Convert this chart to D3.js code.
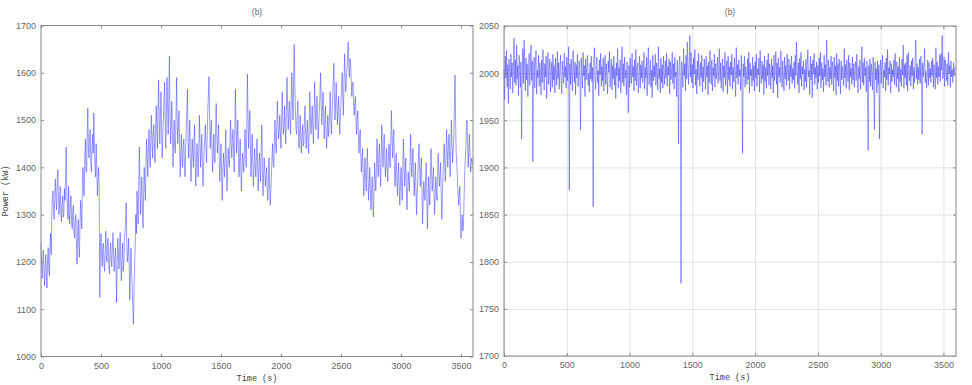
<!DOCTYPE html>
<html>
<head>
    <title>Power (b)</title>
    <script src="https://d3js.org/d3.v7.min.js"></script>
    <style>
        body {
            margin: 0;
            padding: 0;
            background-color: #fff;
        }
        .tick text {
            font-family: 'Liberation Sans', Arial, sans-serif;
            font-size: 9px;
            fill: #666;
        }
        .tick line {
            stroke: #888;
        }
        .grid .tick line {
            stroke: #e2e2e2;
        }
        .label {
            font-family: 'Liberation Mono', 'Courier New', monospace;
            font-size: 8.5px;
            fill: #444;
        }
        .title {
            font-family: 'Liberation Sans', Arial, sans-serif;
            font-size: 8.5px;
            fill: #666;
        }
    </style>
</head>

<body>
    <svg id="chart" width="972" height="385"></svg>

    <script>

        // sampling: one value every 5 s, from 0 to 3595 s
        const step = 5;

        const xTicks = [0, 500, 1000, 1500, 2000, 2500, 3000, 3500];
        const leftTicks = [1000, 1100, 1200, 1300, 1400, 1500, 1600, 1700];
        const rightTicks = [1700, 1750, 1800, 1850, 1900, 1950, 2000, 2050];

        // left panel, power (kW) (one row = 100 s)
        const powerLeft = [
            1240, 1195, 1165, 1210, 1225, 1180, 1150, 1190, 1215, 1170, 1145, 1205, 1230, 1185, 1170, 1235, 1260, 1215, 1300, 1340,
            1350, 1305, 1290, 1345, 1375, 1330, 1310, 1370, 1395, 1340, 1300, 1325, 1360, 1310, 1285, 1320, 1340, 1295, 1300, 1355,
            1330, 1380, 1443, 1350, 1310, 1290, 1360, 1305, 1280, 1325, 1340, 1290, 1270, 1310, 1320, 1265, 1250, 1285, 1300, 1240,
            1195, 1250, 1290, 1235, 1210, 1280, 1330, 1300, 1270, 1360, 1400, 1350, 1340, 1420, 1460, 1395, 1390, 1470, 1525, 1440,
            1420, 1465, 1480, 1410, 1390, 1440, 1470, 1430, 1515, 1455, 1400, 1380, 1450, 1395, 1340, 1370, 1400, 1355, 1125, 1230,
            1260, 1215, 1190, 1235, 1240, 1195, 1180, 1225, 1265, 1210, 1200, 1245, 1250, 1190, 1175, 1220, 1240, 1205, 1190, 1230,
            1262, 1215, 1180, 1205, 1230, 1185, 1114, 1200, 1250, 1220, 1185, 1230, 1262, 1195, 1160, 1210, 1240, 1180, 1195, 1245,
            1262, 1290, 1325, 1240, 1200, 1215, 1250, 1190, 1119, 1180, 1230, 1175, 1150, 1105, 1068, 1140, 1190, 1240, 1300, 1260,
            1350, 1310, 1280, 1375, 1443, 1360, 1300, 1345, 1380, 1320, 1272, 1340, 1400, 1360, 1330, 1410, 1460, 1420, 1380, 1440,
            1480, 1430, 1400, 1460, 1510, 1455, 1420, 1470, 1490, 1440, 1410, 1475, 1530, 1480, 1440, 1520, 1585, 1500, 1450, 1510,
            1560, 1480, 1420, 1470, 1500, 1545, 1580, 1500, 1440, 1520, 1590, 1530, 1470, 1550, 1635, 1520, 1450, 1495, 1540, 1470,
            1400, 1455, 1500, 1440, 1430, 1510, 1590, 1500, 1450, 1490, 1520, 1440, 1380, 1425, 1470, 1415, 1400, 1445, 1460, 1410,
            1380, 1430, 1480, 1520, 1565, 1470, 1420, 1465, 1500, 1420, 1370, 1415, 1460, 1430, 1400, 1455, 1490, 1410, 1360, 1405,
            1450, 1410, 1380, 1440, 1510, 1450, 1400, 1435, 1470, 1410, 1360, 1400, 1440, 1465, 1490, 1440, 1410, 1470, 1520, 1555,
            1592, 1500, 1440, 1475, 1500, 1440, 1390, 1430, 1470, 1425, 1410, 1480, 1535, 1470, 1430, 1460, 1490, 1420, 1370, 1410,
            1450, 1390, 1330, 1385, 1430, 1405, 1380, 1430, 1480, 1410, 1350, 1395, 1440, 1415, 1400, 1455, 1500, 1450, 1420, 1460,
            1480, 1430, 1390, 1470, 1565, 1490, 1430, 1465, 1500, 1440, 1380, 1420, 1460, 1400, 1350, 1395, 1430, 1410, 1390, 1440,
            1480, 1435, 1400, 1490, 1597, 1510, 1440, 1485, 1520, 1450, 1380, 1425, 1470, 1410, 1360, 1400, 1440, 1405, 1380, 1420,
            1460, 1400, 1350, 1395, 1430, 1400, 1370, 1440, 1490, 1410, 1340, 1385, 1420, 1390, 1360, 1380, 1400, 1355, 1330, 1370,
            1420, 1365, 1320, 1350, 1380, 1420, 1450, 1410, 1400, 1460, 1500, 1455, 1430, 1490, 1540, 1495, 1460, 1480, 1510, 1470,
            1440, 1500, 1560, 1505, 1470, 1490, 1530, 1480, 1450, 1520, 1590, 1530, 1480, 1510, 1540, 1495, 1470, 1540, 1600, 1545,
            1500, 1580, 1660, 1580, 1520, 1480, 1470, 1510, 1540, 1480, 1440, 1475, 1510, 1460, 1430, 1470, 1490, 1445, 1450, 1500,
            1530, 1480, 1440, 1470, 1500, 1455, 1430, 1490, 1560, 1510, 1470, 1500, 1530, 1485, 1450, 1510, 1580, 1530, 1480, 1515,
            1550, 1500, 1460, 1490, 1520, 1560, 1600, 1535, 1490, 1520, 1560, 1510, 1460, 1495, 1530, 1480, 1440, 1475, 1510, 1465,
            1480, 1520, 1560, 1505, 1470, 1510, 1540, 1580, 1620, 1550, 1500, 1540, 1580, 1530, 1490, 1520, 1550, 1510, 1470, 1515,
            1540, 1575, 1600, 1550, 1510, 1580, 1640, 1595, 1560, 1590, 1610, 1640, 1665, 1615, 1590, 1630, 1620, 1585, 1550, 1575,
            1580, 1540, 1510, 1535, 1550, 1500, 1470, 1505, 1520, 1470, 1430, 1460, 1480, 1425, 1390, 1420, 1440, 1385, 1340, 1380,
            1420, 1380, 1350, 1400, 1440, 1375, 1330, 1365, 1400, 1350, 1310, 1345, 1380, 1330, 1295, 1350, 1410, 1375, 1350, 1400,
            1460, 1410, 1380, 1420, 1450, 1395, 1360, 1425, 1490, 1435, 1400, 1440, 1470, 1415, 1380, 1410, 1440, 1395, 1370, 1420,
            1450, 1415, 1400, 1460, 1520, 1465, 1420, 1455, 1480, 1410, 1360, 1400, 1430, 1375, 1340, 1385, 1410, 1360, 1320, 1365,
            1400, 1360, 1330, 1395, 1460, 1405, 1360, 1390, 1420, 1355, 1310, 1350, 1390, 1370, 1350, 1410, 1470, 1420, 1380, 1415,
            1440, 1385, 1340, 1375, 1410, 1350, 1300, 1340, 1380, 1415, 1450, 1400, 1360, 1395, 1420, 1345, 1280, 1330, 1370, 1345,
            1330, 1375, 1410, 1335, 1270, 1325, 1380, 1345, 1320, 1385, 1440, 1390, 1350, 1375, 1400, 1345, 1300, 1340, 1380, 1350,
            1330, 1385, 1430, 1390, 1360, 1385, 1410, 1345, 1290, 1335, 1380, 1420, 1450, 1405, 1370, 1425, 1480, 1435, 1400, 1440,
            1470, 1420, 1380, 1440, 1500, 1450, 1410, 1435, 1460, 1530, 1595, 1500, 1430, 1405, 1380, 1345, 1320, 1340, 1360, 1300,
            1250, 1280, 1300, 1265, 1270, 1330, 1380, 1415, 1440, 1480, 1500, 1450, 1400, 1440, 1470, 1425, 1390, 1410, 1420, 1405
        ];

        // right panel, power (kW) (one row = 100 s)
        const powerRight = [
            2005, 1972, 2018, 1995, 2024, 1985, 2009, 1968, 2015, 2001, 1983, 2020, 1996, 2011, 1979, 2006, 2037, 1990, 2014, 1987,
            2030, 1994, 2008, 1976, 2019, 2002, 1985, 2012, 1930, 1998, 2026, 1989, 2035, 2004, 1981, 2016, 1993, 2010, 1975, 2001,
            2021, 1987, 2005, 2030, 1992, 2013, 1906, 1999, 2017, 1984, 2008, 2024, 1978, 2003, 1995, 2019, 1986, 2011, 1999, 1977,
            2014, 1990, 2025, 2003, 1982, 2010, 1996, 2018, 1973, 2006, 2022, 1988, 2001, 2015, 1980, 1997, 2012, 1985, 2020, 1993,
            2008, 1979, 2016, 2000, 1987, 2023, 1994, 2011, 1983, 2005, 2019, 1991, 1978, 2013, 2002, 1989, 2021, 1996, 2007, 1984,
            2017, 1992, 2003, 2028, 1876, 2010, 1988, 2015, 1998, 1981, 2024, 2004, 1990, 2012, 1977, 2009, 1995, 2020, 1986, 2002,
            2013, 1989, 1940, 2016, 2001, 1984, 2022, 1997, 2008, 1975, 2015, 1993, 2006, 2019, 1987, 2000, 1980, 2011, 1994, 2018,
            1991, 2006, 1858, 2012, 2027, 1995, 1983, 2009, 2017, 1990, 2003, 1976, 2014, 1998, 2021, 1986, 2007, 1992, 2016, 1981,
            2004, 2019, 1988, 2010, 1996, 1978, 2013, 2001, 2023, 1985, 1999, 2015, 1982, 2008, 1994, 2018, 1987, 2005, 1973, 2011,
            1997, 2026, 1984, 2006, 1992, 2014, 1979, 2001, 2028, 1990, 2010, 1986, 2017, 1995, 2003, 1977, 2012, 1993, 1958, 2008,
            1985, 2016, 2001, 1989, 2021, 1996, 2007, 1981, 2014, 1992, 2025, 1987, 2004, 2011, 1979, 1998, 2018, 1984, 2009, 1995,
            2013, 1990, 2002, 2022, 1983, 2006, 1995, 2017, 1976, 2010, 2027, 1988, 1999, 2014, 1985, 2003, 1974, 2019, 1992, 2008,
            1996, 2020, 1987, 2011, 2001, 1982, 2028, 1994, 2005, 1979, 2016, 1990, 2009, 1984, 2018, 2000, 1988, 2013, 1995, 2021,
            1986, 2007, 1998, 2015, 1978, 2012, 1993, 2004, 2022, 1989, 2010, 1983, 2017, 1996, 2001, 1975, 2014, 1991, 1925, 2006,
            2018, 1992, 1777, 2012, 2003, 1985, 2026, 1997, 2010, 1981, 2019, 1994, 2033, 2005, 1988, 2014, 2040, 1996, 2022, 1990,
            2009, 1984, 2016, 1999, 2025, 1987, 2004, 1978, 2013, 1993, 2021, 2002, 1986, 2011, 1995, 2019, 1980, 2007, 1991, 2015,
            2001, 1983, 2018, 1996, 2008, 1977, 2012, 1990, 2024, 2003, 1988, 2014, 1981, 2006, 1997, 2020, 1985, 2010, 1994, 2002,
            2017, 1989, 2005, 2026, 1992, 2011, 1984, 1999, 2015, 1980, 2008, 1995, 2022, 1987, 2003, 2013, 1978, 2018, 1993, 2007,
            1986, 2012, 1998, 2020, 1983, 2006, 1991, 2016, 2001, 1975, 2027, 1995, 2009, 1988, 2014, 1997, 2004, 1982, 2019, 1990,
            1915, 2010, 1996, 2018, 1985, 2007, 2000, 1988, 2015, 1993, 2022, 1979, 2011, 1997, 2004, 1986, 2017, 1992, 2008, 1981,
            2012, 1995, 2020, 1986, 2005, 1998, 2016, 1980, 2024, 2002, 1989, 2013, 1994, 2009, 1977, 2018, 1991, 2006, 1984, 2014,
            1997, 2021, 1987, 2010, 2001, 1983, 2015, 1995, 2008, 1979, 2019, 1992, 2004, 2023, 1988, 2011, 1974, 2016, 1996, 2006,
            1990, 2024, 2003, 1985, 2013, 1998, 1981, 2017, 1994, 2008, 1987, 2020, 2001, 1992, 2015, 1983, 2009, 1996, 2018, 1989,
            2005, 1993, 2012, 1984, 2019, 1997, 2033, 2002, 1988, 2011, 1979, 2016, 1994, 2022, 1986, 2007, 1999, 2013, 1982, 2004,
            1991, 2015, 1985, 2009, 2025, 1996, 2003, 1977, 2018, 1993, 2010, 1974, 2014, 1999, 2021, 1988, 2006, 1995, 2012, 1983,
            2008, 1990, 2016, 1997, 2022, 1984, 2011, 1993, 2005, 1980, 2019, 1996, 2009, 1987, 2035, 2000, 1991, 2014, 1985, 2006,
            1994, 2018, 1988, 2012, 2003, 1981, 2017, 1995, 2008, 1977, 2021, 1992, 2010, 1986, 2015, 1999, 1978, 2013, 1993, 2007,
            2001, 1987, 2026, 1995, 2009, 1984, 2014, 2002, 1991, 2019, 1982, 2011, 1996, 2005, 1988, 2017, 1993, 2010, 1985, 2003,
            2012, 1992, 2020, 1998, 1979, 2007, 1994, 2014, 1983, 2004, 2028, 1990, 2011, 1987, 2016, 1997, 2006, 1980, 2013, 1995,
            1918, 2008, 1991, 2015, 1986, 2010, 2000, 1982, 2017, 1995, 1940, 2012, 1993, 2005, 1979, 2013, 1988, 2009, 1930, 2002,
            2014, 1989, 2007, 2019, 1984, 2003, 1996, 2011, 1981, 2016, 1993, 2025, 1987, 2006, 1999, 2013, 1979, 2010, 1991, 2004,
            1996, 2014, 1988, 2021, 2002, 1985, 2012, 1994, 2007, 1980, 2017, 1991, 2004, 1986, 2015, 1998, 2030, 1984, 2009, 1995,
            2011, 1987, 2019, 1981, 2022, 2000, 1992, 2008, 1986, 2013, 1997, 2016, 1983, 2006, 1990, 2018, 2035, 1994, 2010, 1988,
            2006, 1993, 2015, 1989, 2018, 2003, 1935, 2011, 1996, 2008, 2026, 1990, 2002, 1984, 1998, 2014, 1987, 2011, 1995, 2005,
            1990, 2013, 1997, 2016, 1985, 2009, 2001, 1983, 2027, 1995, 2012, 1988, 2007, 1996, 2019, 1991, 2021, 2003, 2040, 1994,
            1998, 2017, 1986, 2014, 2003, 1992, 2010, 1987, 2022, 1999, 2008, 1985, 2013, 1996, 2004, 1990, 2011, 1997, 2006, 2005
        ];

        const svg = d3.select("#chart");

        function drawPanel(opt) {
            const w = opt.x1 - opt.x0;
            const h = opt.y1 - opt.y0;
            const g = svg.append("g").attr("transform", "translate(" + opt.x0 + "," + opt.y0 + ")");

            const x = d3.scaleLinear().domain([0, 3600]).range([0, w]);
            const y = d3.scaleLinear().domain(opt.yDomain).range([h, 0]);
            const fmt = d3.format("d");

            // grid (right panel only)
            if (opt.grid) {
                g.append("g").attr("class", "grid")
                    .attr("transform", "translate(0," + h + ")")
                    .call(d3.axisBottom(x).tickValues(xTicks).tickSize(-h).tickFormat(""))
                    .call(a => a.select(".domain").remove());
                g.append("g").attr("class", "grid")
                    .call(d3.axisLeft(y).tickValues(opt.yTicks).tickSize(-w).tickFormat(""))
                    .call(a => a.select(".domain").remove());
            }

            // the series
            const line = d3.line()
                .x((d, i) => x(i * step))
                .y(d => y(d));
            g.append("path")
                .datum(opt.values)
                .attr("d", line)
                .attr("fill", "none")
                .attr("stroke", "#2f2fff")
                .attr("stroke-width", 0.6)
                .attr("stroke-opacity", 0.8);

            // axes, ticks pointing inward
            g.append("g")
                .attr("transform", "translate(0," + h + ")")
                .call(d3.axisBottom(x).tickValues(xTicks).tickSize(-3).tickPadding(6).tickFormat(fmt))
                .call(a => a.select(".domain").remove());
            g.append("g")
                .call(d3.axisTop(x).tickValues(xTicks).tickSize(-3).tickFormat(""))
                .call(a => a.select(".domain").remove());
            g.append("g")
                .call(d3.axisLeft(y).tickValues(opt.yTicks).tickSize(-3).tickPadding(5).tickFormat(fmt))
                .call(a => a.select(".domain").remove());
            g.append("g")
                .attr("transform", "translate(" + w + ",0)")
                .call(d3.axisRight(y).tickValues(opt.yTicks).tickSize(-3).tickFormat(""))
                .call(a => a.select(".domain").remove());

            // frame
            g.append("rect")
                .attr("width", w)
                .attr("height", h)
                .attr("fill", "none")
                .attr("stroke", "#888")
                .attr("stroke-width", 1);

            g.append("text").attr("class", "title")
                .attr("x", w / 2).attr("y", -11)
                .attr("text-anchor", "middle")
                .text("(b)");

            g.append("text").attr("class", "label")
                .attr("x", w / 2).attr("y", h + 24)
                .attr("text-anchor", "middle")
                .text("Time (s)");

            if (opt.yLabel) {
                g.append("text").attr("class", "label")
                    .attr("transform", "translate(" + (8 - opt.x0) + "," + (h / 2) + ") rotate(-90)")
                    .attr("text-anchor", "middle")
                    .text(opt.yLabel);
            }
        }

        drawPanel({ x0: 41, x1: 473, y0: 25.5, y1: 356.5, yDomain: [1000, 1700], yTicks: leftTicks,
                    values: powerLeft, grid: false, yLabel: "Power (kW)" });
        drawPanel({ x0: 504, x1: 956, y0: 26, y1: 356, yDomain: [1700, 2050], yTicks: rightTicks,
                    values: powerRight, grid: true, yLabel: null });

    </script>
</body>
</html>
